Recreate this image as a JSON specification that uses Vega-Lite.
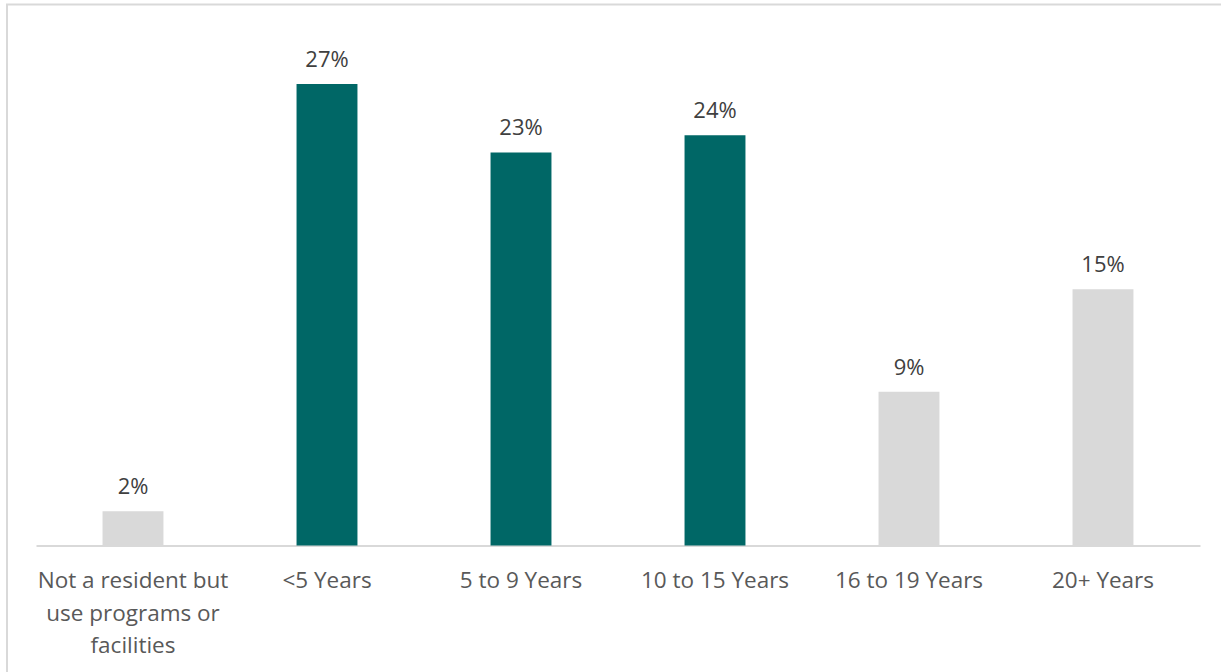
{
  "$schema": "https://vega.github.io/schema/vega-lite/v6.json",
  "autosize": "none",
  "width": 1230,
  "height": 676,
  "padding": {"left": 7, "top": 4.5, "right": 0, "bottom": 0},
  "background": "white",
  "config": {
    "view": {"stroke": "#d9d9d9", "strokeWidth": 2},
    "font": "Open Sans"
  },
  "data": {
    "values": [
      {"category": "Not a resident but use programs or facilities", "value": 0.02},
      {"category": "<5 Years", "value": 0.27},
      {"category": "5 to 9 Years", "value": 0.23},
      {"category": "10 to 15 Years", "value": 0.24},
      {"category": "16 to 19 Years", "value": 0.09},
      {"category": "20+ Years", "value": 0.15}
    ]
  },
  "encoding": {
    "x": {
      "field": "category",
      "type": "nominal",
      "sort": null,
      "scale": {"range": [29, 1193], "paddingInner": 0.686, "paddingOuter": 0.343},
      "axis": {
        "title": null,
        "orient": "bottom",
        "offset": -135,
        "domainColor": "#d9d9d9",
        "domainWidth": 2,
        "ticks": false,
        "labelAngle": 0,
        "labelFont": "Open Sans",
        "labelFontSize": 22.5,
        "labelColor": "#595959",
        "labelPadding": 24,
        "labelLineHeight": 32.5,
        "labelBaseline": "top",
        "labelLimit": 400,
        "labelOverlap": false,
        "labelExpr": "datum.label == 'Not a resident but use programs or facilities' ? ['Not a resident but', 'use programs or', 'facilities'] : datum.label"
      }
    },
    "y": {
      "field": "value",
      "type": "quantitative",
      "scale": {"domain": [0, 0.3], "range": [541, 28.3], "nice": false, "zero": true},
      "axis": null
    }
  },
  "layer": [
    {
      "mark": {"type": "bar"},
      "encoding": {
        "color": {
          "condition": {
            "test": "indexof(['<5 Years', '5 to 9 Years', '10 to 15 Years'], datum.category) >= 0",
            "value": "#006766"
          },
          "value": "#d9d9d9"
        }
      }
    },
    {
      "mark": {"type": "text", "baseline": "alphabetic", "dy": -17, "fontSize": 22, "color": "#404040", "font": "Open Sans"},
      "encoding": {
        "text": {"field": "value", "type": "quantitative", "format": ".0%"}
      }
    }
  ]
}
